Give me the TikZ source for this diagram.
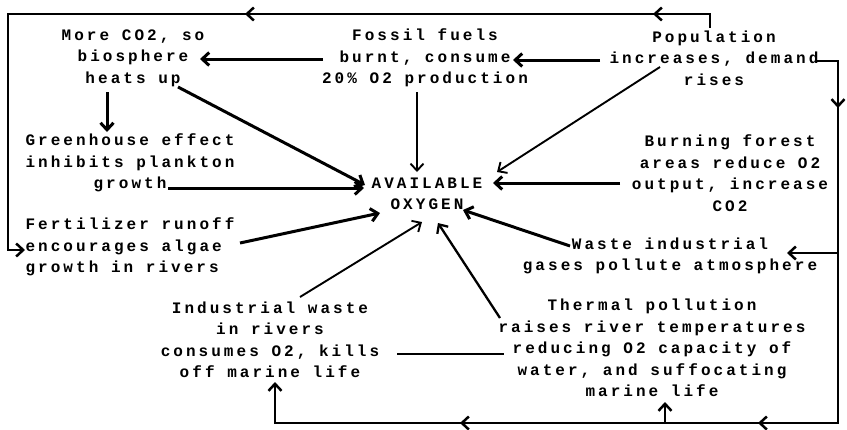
\documentclass[tikz,border=0pt]{standalone}
\usepackage{fontspec}
\setmonofont{Liberation Mono}[LetterSpace=19]
\usepackage{tikz}
\usetikzlibrary{arrows.meta}

\tikzset{
  txt/.style={align=center, inner sep=0pt, font=\ttfamily\bfseries\fontsize{16}{21.5}\selectfont},
  thk/.style={line width=3pt, -{Straight Barb[length=7pt,width=13pt]}},
  thn/.style={line width=1.9pt, -{Straight Barb[length=7pt,width=13pt]}},
  lne/.style={line width=2.5pt, line cap=rect},
  lp/.style={lne, -{Straight Barb[length=7pt,width=13pt]}},
}

\begin{document}
\begin{tikzpicture}[x=1pt,y=-1pt]
\useasboundingbox (0,0) rectangle (847,429);

\node[txt] (co2) at (133,58) {More CO2, so\\biosphere\\heats up};
\node[txt] (fossil) at (425,58) {Fossil fuels\\burnt, consume\\20\% O2 production};
\node[txt] (pop) at (714,58) {Population\\increases, demand\\rises};
\node[txt] (green) at (130,163) {Greenhouse effect\\inhibits plankton\\growth};
\node[txt] (oxy) at (427,194) {AVAILABLE\\OXYGEN};
\node[txt] (burn) at (730,173) {Burning forest\\areas reduce O2\\output, increase\\CO2};
\node[txt, align=left] (fert) at (130,247) {Fertilizer runoff\\encourages algae\\growth in rivers};
\node[txt] (gases) at (670,256) {Waste industrial\\gases pollute atmosphere};
\node[txt] (indw) at (270,340) {Industrial waste\\in rivers\\consumes O2, kills\\off marine life};
\node[txt] (therm) at (652,348) {Thermal pollution\\raises river temperatures\\reducing O2 capacity of\\water, and suffocating\\marine life};

% arrows into the oxygen node
\draw[thk] ([shift={(-102,1)}]fossil.center) -- ([shift={(67,1)}]co2.center);
\draw[thk] ([shift={(-114,2)}]pop.center) -- ([shift={(88,2)}]fossil.center);
\draw[thk] ([shift={(-26,34)}]co2.center) -- ([shift={(-23,-31)}]green.center);
\draw[thk] ([shift={(45,29)}]co2.center) -- ([shift={(-62,-9)}]oxy.center);
\draw[thn] ([shift={(-8,34)}]fossil.center) -- ([shift={(-10,-22)}]oxy.center);
\draw[thn] ([shift={(-54,9)}]pop.center) -- ([shift={(70,-22)}]oxy.center);
\draw[thk] ([shift={(38,25)}]green.center) -- ([shift={(-63,-6)}]oxy.center);
\draw[thk] ([shift={(-110,10)}]burn.center) -- ([shift={(66,-11)}]oxy.center);
\draw[thk] ([shift={(110,-4)}]fert.center) -- ([shift={(-47,19)}]oxy.center);
\draw[thn] ([shift={(30,-43)}]indw.center) -- ([shift={(-5,28)}]oxy.center);
\draw[thk] ([shift={(-100,-10)}]gases.center) -- ([shift={(36,16)}]oxy.center);
\draw[thn, line width=2.3pt] ([shift={(-152,-30)}]therm.center) -- ([shift={(11,29)}]oxy.center);
\draw[lne] ([shift={(128,14)}]indw.center) -- ([shift={(-149,6)}]therm.center);

% feedback loops
\coordinate (tl) at (8,14);
\coordinate (tr) at (710,14);
\coordinate (ta1) at (653,14);
\coordinate (ta2) at (245,14);
\coordinate (bl) at (8,250);
\coordinate (rt) at (838,61);
\coordinate (ra) at (838,108);
\coordinate (rm) at (838,253);
\coordinate (br) at (838,423);
\coordinate (ba1) at (758,423);
\coordinate (bt) at (665,423);
\coordinate (ba2) at (460,423);
\coordinate (bb) at (275,423);

\draw[lne] ([shift={(-4,-31)}]pop.center) -- (tr);
\draw[lp] (tr) -- (ta1);
\draw[lp] (ta1) -- (ta2);
\draw[lp] (ta2) -- (tl) -- (bl) -- ([shift={(-105,3)}]fert.center);

\draw[lne] ([shift={(103,3)}]pop.center) -- (rt);
\draw[lp] (rt) -- (ra);
\draw[lne] (ra) -- (br);
\draw[lp] (rm) -- ([shift={(117,-3)}]gases.center);
\draw[lp] (br) -- (ba1);
\draw[lp] (ba1) -- (ba2);
\draw[lp] (ba2) -- (bb) -- ([shift={(5,42)}]indw.center);
\draw[lp] (bt) -- ([shift={(13,54)}]therm.center);
\end{tikzpicture}
\end{document}
